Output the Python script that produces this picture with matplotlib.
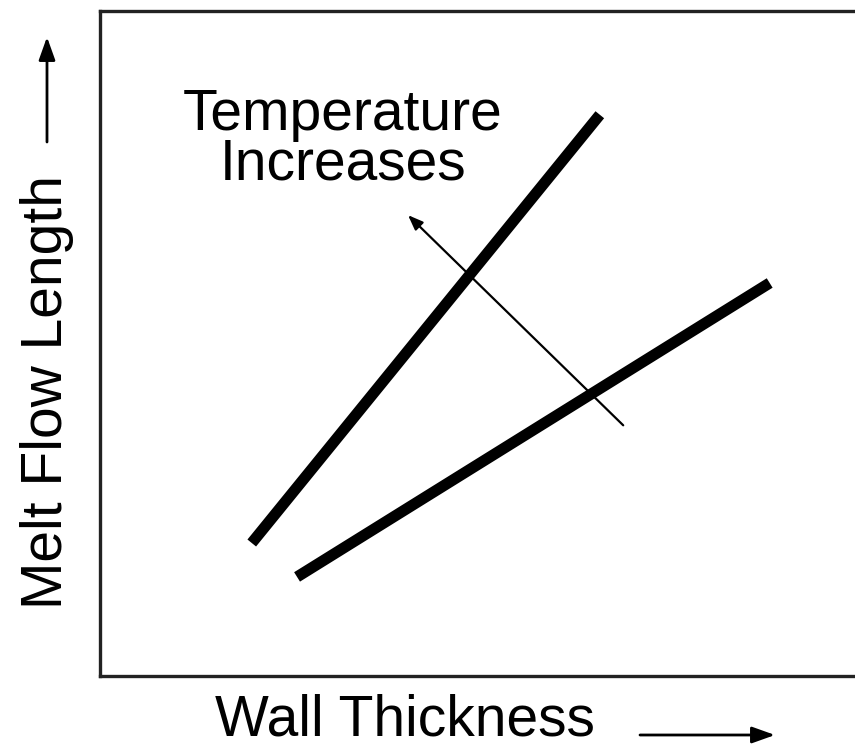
import matplotlib
matplotlib.use("Agg")
import matplotlib.pyplot as plt

# Schematic: melt flow length vs wall thickness, two temperature lines
# (arbitrary units, 0-10 on both axes)
low_temp_x = [2.61, 8.87]
low_temp_y = [1.49, 5.91]
high_temp_x = [2.01, 6.62]
high_temp_y = [2.00, 8.44]

# "temperature increases" arrow, tail -> head
trend_tail = (6.93, 3.77)
trend_head = (4.08, 6.93)

note_lines = ["Temperature", "Increases"]
note_x = 3.22
note_y = [8.21, 7.46]

x_label = "Wall Thickness"
y_label = "Melt Flow Length"

W, H = 855, 752
plt.rcParams["font.family"] = ["Liberation Sans", "DejaVu Sans"]

fig = plt.figure(figsize=(W / 100, H / 100), dpi=100)
ax = fig.add_axes([100 / W, 1 - 676 / H, 1 - 100 / W, (676 - 11) / H])
ax.set_xlim(0, 10)
ax.set_ylim(0, 10)
ax.set_xticks([])
ax.set_yticks([])
for side in ["left", "top", "bottom"]:
    ax.spines[side].set_linewidth(2.4)
    ax.spines[side].set_color("#222222")
ax.spines["right"].set_visible(False)

ax.plot(high_temp_x, high_temp_y, color="black", lw=8, solid_capstyle="butt")
ax.plot(low_temp_x, low_temp_y, color="black", lw=8, solid_capstyle="butt")

ax.annotate("", xy=trend_head, xytext=trend_tail,
            arrowprops=dict(arrowstyle="-|>,head_length=0.9,head_width=0.35",
                            color="black", lw=1.6, shrinkA=0, shrinkB=0))

for txt, yy in zip(note_lines, note_y):
    ax.text(note_x, yy, txt, ha="center", va="baseline", fontsize=41)

# axis titles with direction arrows drawn outside the axes
fig.text(405 / W, 1 - 736 / H, x_label, ha="center", va="baseline", fontsize=41)
fig.text(20 / W, 1 - 392 / H, y_label, ha="left", va="center",
         rotation=90, fontsize=41)

arrow_kw = dict(arrowstyle="-|>,head_length=1.4,head_width=0.5",
                color="black", lw=2.0, shrinkA=0, shrinkB=0)
ax.annotate("", xy=(775 / W, 1 - 735 / H), xytext=(640 / W, 1 - 735 / H),
            xycoords="figure fraction", textcoords="figure fraction",
            arrowprops=arrow_kw, annotation_clip=False)
ax.annotate("", xy=(47 / W, 1 - 37 / H), xytext=(47 / W, 1 - 142 / H),
            xycoords="figure fraction", textcoords="figure fraction",
            arrowprops=arrow_kw, annotation_clip=False)

fig.savefig("out.png", dpi=100)
